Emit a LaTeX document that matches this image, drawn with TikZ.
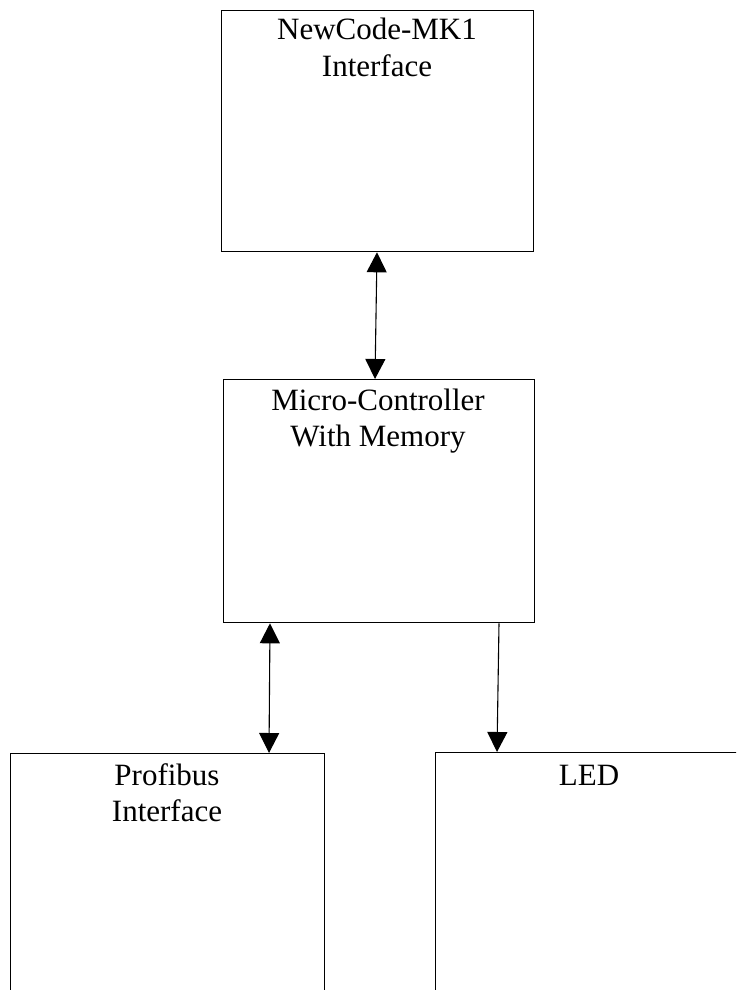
\documentclass[tikz,border=0pt]{standalone}
\usepackage{fontspec}
\setmainfont{Liberation Serif}
\usetikzlibrary{arrows.meta,calc}
\begin{document}
\begin{tikzpicture}[x=1pt,y=-1pt,
  box/.style={draw=black,line width=1.3pt,rectangle,inner sep=0pt,anchor=north west},
  lbl/.style={font=\fontsize{31}{36}\selectfont,align=center,inner sep=0pt,anchor=base},
  conn/.style={line width=1.1pt,{Triangle[width=20pt,length=20pt]}-{Triangle[width=20pt,length=20pt]}},
  oneway/.style={line width=1.1pt,-{Triangle[width=20pt,length=20pt]}}]
\useasboundingbox (0,0) rectangle (736,990);
\clip (0,0) rectangle (736,990);
\node[box,minimum width=312pt,minimum height=241pt] (top) at (221,10) {};
\node[box,minimum width=311pt,minimum height=243pt] (mid) at (223,379) {};
\node[box,minimum width=314pt,minimum height=260pt] (prof) at (10,753) {};
\node[box,minimum width=320pt,minimum height=260pt] (led) at (435,752) {};
\node[lbl] (toptxt) at (377,40) {NewCode-MK1};
\node[lbl] (toptxt2) at (377,76) {Interface};
\node[lbl] (midtxt) at (378,410) {Micro-Controller};
\node[lbl] (midtxt2) at (378,446) {With Memory};
\node[lbl] (proftxt) at (167,785) {Profibus};
\node[lbl] (proftxt2) at (167,821) {Interface};
\node[lbl] (ledtxt) at (589,785) {LED};
\coordinate (a1) at ($(top.south west)+(156,0)$);
\coordinate (a2) at ($(mid.north west)+(152,0)$);
\coordinate (b1) at ($(mid.south west)+(47,0)$);
\coordinate (b2) at ($(prof.north west)+(259,0)$);
\coordinate (c1) at ($(mid.south west)+(276,0)$);
\coordinate (c2) at ($(led.north west)+(62,0)$);
\draw[conn] (a1) -- (a2);
\draw[conn] (b1) -- (b2);
\draw[oneway] (c1) -- (c2);
\end{tikzpicture}
\end{document}
